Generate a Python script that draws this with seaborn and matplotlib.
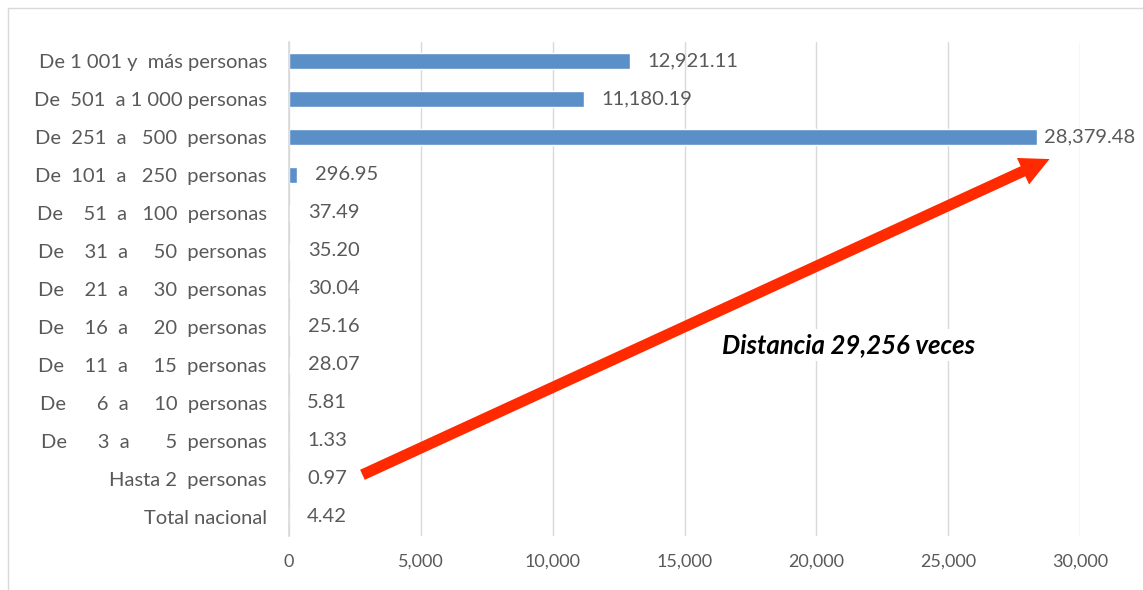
import matplotlib
matplotlib.use("Agg")
import matplotlib.pyplot as plt
from matplotlib.patches import FancyArrowPatch, Rectangle
import seaborn as sns
import pandas as pd

# Datos del gráfico (de arriba hacia abajo)
categorias = [
    "De 1 001 y  más personas",
    "De  501  a 1 000 personas",
    "De  251  a   500  personas",
    "De  101  a   250  personas",
    "De    51  a   100  personas",
    "De    31  a     50  personas",
    "De    21  a     30  personas",
    "De    16  a     20  personas",
    "De    11  a     15  personas",
    "De      6  a     10  personas",
    "De      3  a       5  personas",
    "Hasta 2  personas",
    "Total nacional",
]
valores = [12921.11, 11180.19, 28379.48, 296.95, 37.49, 35.20, 30.04,
           25.16, 28.07, 5.81, 1.33, 0.97, 4.42]
ticks_x = [0, 5000, 10000, 15000, 20000, 25000, 30000]
texto_flecha = "Distancia 29,256 veces"

sns.set_theme(style="white")
plt.rcParams['font.family'] = ['Lato', 'DejaVu Sans']

gris = "#595959"
azul = "#5B8FC8"
rojo = "#FF2A00"

df = pd.DataFrame({'Categoria': categorias, 'Valor': valores})

fig = plt.figure(figsize=(11.43, 5.90), dpi=100)
W, H = 1143, 590
ax = fig.add_axes([289 / W, 1 - 536 / H, (1080 - 289) / W, (536 - 42) / H])

sns.barplot(data=df, x='Valor', y='Categoria', order=categorias,
            color=azul, saturation=1, width=0.41, ax=ax)

ax.set_xlim(0, 30000)
ax.set_ylim(len(categorias) - 0.5, -0.5)
ax.set_xticks(ticks_x)
ax.set_xticklabels([f"{t:,}" for t in ticks_x])
ax.set_xlabel("")
ax.set_ylabel("")
ax.grid(axis='x', color='#d9d9d9', linewidth=1)
ax.set_axisbelow(True)
for s in ['top', 'right', 'bottom']:
    ax.spines[s].set_visible(False)
ax.spines['left'].set_color('#d9d9d9')
ax.spines['left'].set_linewidth(1.2)
ax.tick_params(axis='x', length=0, pad=13, labelsize=13, labelcolor=gris)
ax.tick_params(axis='y', length=0, pad=16, labelsize=14.5, labelcolor=gris)

# Etiquetas de valor
for i, v in enumerate(valores):
    off = 5 if v > 20000 else 13
    ax.annotate(f"{v:,.2f}", xy=(v, i), xytext=(off, 0),
                textcoords='offset points', ha='left', va='center',
                fontsize=14.5, color=gris)

# Flecha roja
flecha = FancyArrowPatch((2690, 10.92), (28940, 2.55),
                         arrowstyle="simple,head_length=21,head_width=21,tail_width=8",
                         mutation_scale=1, color=rojo, lw=0, zorder=5)
ax.add_patch(flecha)

ax.text(16420, 7.47, texto_flecha, ha='left', va='center', fontsize=18.5,
        fontweight='bold', fontstyle='italic', color='black', zorder=6,
        bbox=dict(facecolor='white', edgecolor='none', pad=3))

# Marco del gráfico
fig.patches.append(Rectangle((8 / W, -0.1), 1.1, 1 - 8 / H + 0.1,
                             transform=fig.transFigure, fill=False,
                             edgecolor='#d9d9d9', linewidth=1))

fig.savefig("out.png", dpi=100)
